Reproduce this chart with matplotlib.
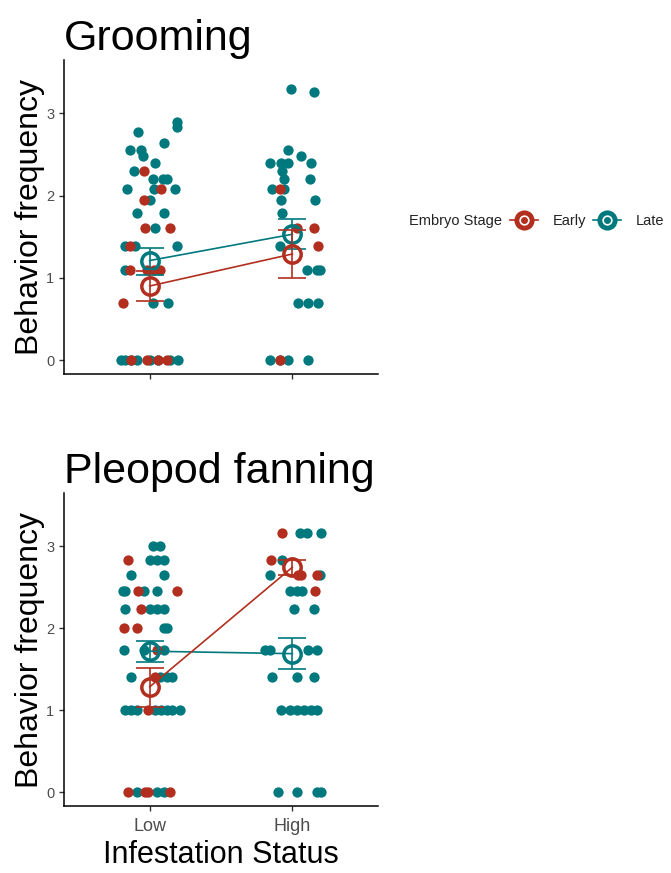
import numpy as np
import matplotlib
matplotlib.use("Agg")
import matplotlib.pyplot as plt
from matplotlib.lines import Line2D
from matplotlib.legend_handler import HandlerTuple

plt.rcParams['font.family'] = ['Liberation Sans', 'DejaVu Sans']

red = '#B22F1F'
teal = '#00797E'
grey = '#4D4D4D'

groups = ['Low', 'High']

# raw observations: (value, jitter offset) for each stage and infestation level
groom_early_low_y = [2.30, 2.08, 1.95, 1.61, 1.61, 1.39, 1.10, 1.10, 1.10, 1.10, 0.69, 0, 0, 0, 0]
groom_early_low_dx = [-0.04, 0.08, -0.04, -0.03, 0.14, -0.14, -0.14, -0.02, 0.03, 0.07, -0.19, -0.13, -0.02, 0.06, 0.12]
groom_late_low_y = [2.89, 2.83, 2.77, 2.64, 2.56, 2.56, 2.48, 2.40, 2.30, 2.20, 2.20, 2.20,
                    2.08, 2.08, 2.08, 1.95, 1.79, 1.79, 1.61, 1.39, 1.39, 1.39, 1.10, 0.69, 0.69,
                    0, 0, 0, 0, 0, 0, 0, 0]
groom_late_low_dx = [0.19, 0.19, -0.08, 0.10, -0.14, -0.06, -0.05, 0.04, -0.11, 0.02, 0.09, 0.12,
                     -0.16, 0.03, 0.18, 0.0, -0.09, 0.10, 0.04, -0.17, -0.10, 0.19, -0.17, 0.02, 0.13,
                     -0.20, -0.17, -0.13, -0.09, 0.0, 0.06, 0.14, 0.20]
groom_early_high_y = [2.08, 1.61, 1.61, 1.39, 0]
groom_early_high_dx = [-0.09, 0.03, 0.15, 0.18, -0.09]
groom_late_high_y = [3.30, 3.26, 2.56, 2.48, 2.40, 2.40, 2.40, 2.40, 2.30, 2.20, 2.20, 2.08, 2.08,
                     1.95, 1.95, 1.79, 1.39, 1.10, 1.10, 1.10, 0.69, 0.69, 0.69, 0, 0, 0, 0]
groom_late_high_dx = [-0.01, 0.15, -0.03, 0.06, -0.16, -0.08, -0.03, 0.13, -0.07, -0.06, 0.12, -0.14, -0.06,
                      -0.08, 0.16, -0.07, -0.09, 0.10, 0.17, 0.19, 0.04, 0.11, 0.18, -0.16, -0.09, -0.03, 0.11]

fan_early_low_y = [2.83, 2.45, 2.45, 2.24, 2.00, 2.00, 1.73, 1.41, 1.00, 0, 0, 0, 0]
fan_early_low_dx = [-0.15, -0.08, 0.19, -0.06, -0.18, -0.09, 0.05, 0.04, -0.01, -0.15, -0.03, -0.01, 0.14]
fan_late_low_y = [3.00, 3.00, 2.83, 2.83, 2.83, 2.65, 2.65, 2.45, 2.45, 2.45, 2.45,
                  2.24, 2.24, 2.24, 2.24, 2.00, 2.00, 1.73, 1.73, 1.73, 1.41, 1.41, 1.41, 1.41,
                  1.00, 1.00, 1.00, 1.00, 1.00, 1.00, 1.00, 1.00, 0, 0, 0]
fan_late_low_dx = [0.02, 0.07, 0.0, 0.05, 0.10, -0.13, 0.10, -0.19, -0.17, -0.04, 0.05,
                   -0.17, 0.0, 0.05, 0.10, 0.10, 0.12, -0.18, -0.04, 0.10, -0.13, 0.07, 0.12, 0.16,
                   -0.17, -0.13, -0.09, 0.04, 0.08, 0.12, 0.16, 0.21, -0.09, 0.05, 0.10]
fan_early_high_y = [3.16, 2.83, 2.65, 2.65, 2.65, 2.45]
fan_early_high_dx = [-0.07, -0.15, 0.04, 0.06, 0.17, 0.16]
fan_late_high_y = [3.16, 3.16, 3.16, 2.83, 2.65, 2.65, 2.45, 2.45, 2.45, 2.24, 2.24,
                   1.73, 1.73, 1.73, 1.73, 1.41, 1.41, 1.41,
                   1.00, 1.00, 1.00, 1.00, 1.00, 1.00, 0, 0, 0, 0]
fan_late_high_dx = [0.05, 0.10, 0.20, -0.07, -0.16, 0.19, -0.02, 0.03, 0.07, 0.01, 0.15,
                    -0.19, -0.16, 0.11, 0.17, -0.14, 0.03, 0.15,
                    -0.08, -0.02, 0.03, 0.08, 0.13, 0.17, -0.10, 0.03, 0.17, 0.20]

# group means with lower / upper error limits (Low, High)
groom_early_mean = [0.90, 1.29]
groom_early_lo = [0.72, 1.00]
groom_early_hi = [1.085, 1.58]
groom_late_mean = [1.21, 1.53]
groom_late_lo = [1.04, 1.35]
groom_late_hi = [1.36, 1.72]

fan_early_mean = [1.285, 2.745]
fan_early_lo = [1.04, 2.65]
fan_early_hi = [1.52, 2.835]
fan_late_mean = [1.72, 1.69]
fan_late_lo = [1.59, 1.50]
fan_late_hi = [1.84, 1.875]


def draw_panel(ax, title, pts, summ, show_x):
    # jittered raw points, Late first then Early
    for (y_low, dx_low, y_high, dx_high), col in pts:
        ax.scatter(1 + np.array(dx_low), y_low, s=55, color=col, lw=0, zorder=2)
        ax.scatter(2 + np.array(dx_high), y_high, s=55, color=col, lw=0, zorder=2)
    x = np.arange(1, len(groups) + 1)
    for k, ((m, lo, hi), col) in enumerate(summ):
        m, lo, hi = np.array(m), np.array(lo), np.array(hi)
        z = 3 + k
        ax.plot(x, m, color=col, lw=1.2, zorder=z)
        ax.errorbar(x, m, yerr=[m - lo, hi - m], fmt='none', ecolor=col,
                    elinewidth=1.2, capsize=10, capthick=1.2, zorder=z)
        ax.plot(x, m, ls='none', marker='o', ms=12.5, mfc='none', mec=col, mew=2.5, zorder=z)
    ax.set_xlim(0.4, 2.6)
    ax.set_ylim(-0.17, 3.65)
    ax.set_xticks(x)
    ax.set_xticklabels(groups if show_x else ['', ''])
    ax.set_yticks([0, 1, 2, 3])
    ax.tick_params(axis='both', colors='#333333', length=3.5, width=1.0)
    ax.tick_params(axis='y', labelsize=10.5, labelcolor=grey)
    ax.tick_params(axis='x', labelsize=13, labelcolor=grey, pad=5)
    for s in ['top', 'right']:
        ax.spines[s].set_visible(False)
    for s in ['left', 'bottom']:
        ax.spines[s].set_linewidth(1.1)
    ax.set_ylabel('Behavior frequency', fontsize=23, labelpad=1)
    ax.set_title(title, loc='left', fontsize=31, pad=7)
    if show_x:
        ax.set_xlabel('Infestation Status', fontsize=22, labelpad=4)


fig = plt.figure(figsize=(6.71, 8.73), dpi=100)
ax1 = fig.add_axes([0.0954, 0.5716, 0.468, 0.3597])
ax2 = fig.add_axes([0.0954, 0.0767, 0.468, 0.3585])

draw_panel(ax1, 'Grooming',
           [((groom_late_low_y, groom_late_low_dx, groom_late_high_y, groom_late_high_dx), teal),
            ((groom_early_low_y, groom_early_low_dx, groom_early_high_y, groom_early_high_dx), red)],
           [((groom_late_mean, groom_late_lo, groom_late_hi), teal),
            ((groom_early_mean, groom_early_lo, groom_early_hi), red)],
           show_x=False)
draw_panel(ax2, 'Pleopod fanning',
           [((fan_late_low_y, fan_late_low_dx, fan_late_high_y, fan_late_high_dx), teal),
            ((fan_early_low_y, fan_early_low_dx, fan_early_high_y, fan_early_high_dx), red)],
           [((fan_late_mean, fan_late_lo, fan_late_hi), teal),
            ((fan_early_mean, fan_early_lo, fan_early_hi), red)],
           show_x=True)

# legend to the right of the upper panel
def key(col):
    return (Line2D([], [], color=col, lw=1.2),
            Line2D([], [], ls='none', marker='o', ms=11, mfc='white', mec=col, mew=3.5),
            Line2D([], [], ls='none', marker='o', ms=4, color=col))

ly = 1 - 221 / 873
fig.text(409 / 671, ly, 'Embryo Stage', fontsize=10.5, color='#222222', va='center', ha='left')
fig.legend([key(red), key(teal)], ['Early', 'Late'], ncol=2, loc='center left',
           bbox_to_anchor=(510 / 671, ly), frameon=False, fontsize=10.5,
           handler_map={tuple: HandlerTuple(ndivide=1, pad=0)},
           handlelength=1.9, handletextpad=1.05, columnspacing=0.45, borderpad=0,
           borderaxespad=0, labelcolor='#222222')

fig.savefig('out.png', dpi=100)
